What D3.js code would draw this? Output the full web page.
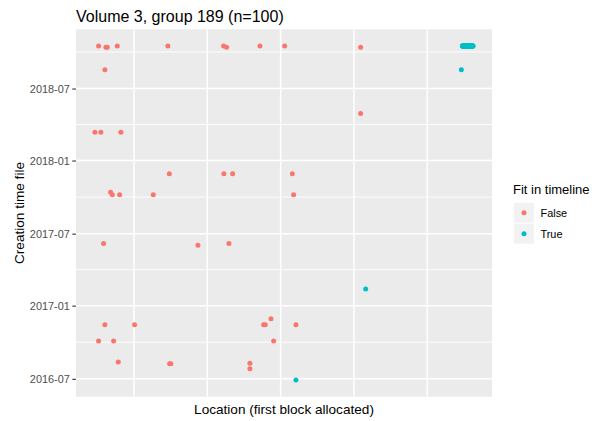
<!DOCTYPE html>
<html>
<head>
<meta charset="utf-8">
<script src="https://cdn.jsdelivr.net/npm/d3@7"></script>
<style>
  html, body { margin: 0; padding: 0; background: #ffffff; }
  svg { display: block; font-family: "Liberation Sans", Arial, sans-serif; }
</style>
</head>
<body>
<svg id="chart" width="597" height="421"></svg>
<script>
// Files whose placement does not fit the timeline (Fit in timeline = False)
const falseLocation = [
  0.517, 0.617, 0.636, 0.772, 1.462, 0.603, 0.467, 0.548, 0.821,
  2.222, 2.263, 2.718, 3.055, 4.091, 4.091,
  1.482, 0.681, 0.704, 0.804, 1.263, 0.585, 1.872,
  2.226, 2.345, 3.160, 3.177, 2.295,
  0.603, 1.008, 0.517, 0.722, 0.786, 1.486, 1.503,
  2.868, 2.768, 2.791, 3.209, 2.905, 2.581, 2.581
];
const falseCreated = [
  "2018-10-16", "2018-10-13", "2018-10-13", "2018-10-16", "2018-10-16", "2018-08-17", "2018-03-13", "2018-03-13", "2018-03-13",
  "2018-10-16", "2018-10-13", "2018-10-16", "2018-10-16", "2018-10-13", "2018-04-29",
  "2017-11-29", "2017-10-13", "2017-10-07", "2017-10-07", "2017-10-07", "2017-06-06", "2017-06-02",
  "2017-11-29", "2017-11-29", "2017-11-29", "2017-10-07", "2017-06-06",
  "2016-11-14", "2016-11-14", "2016-10-04", "2016-10-04", "2016-08-12", "2016-08-08", "2016-08-08",
  "2016-11-29", "2016-11-14", "2016-11-14", "2016-11-14", "2016-10-04", "2016-08-09", "2016-07-26"
];

// Files that fit the timeline (Fit in timeline = True)
const trueLocation = [5.465, 4.160, 3.209];
const trueCreated = ["2018-08-17", "2017-02-12", "2016-06-28"];

// One contiguous batch written on the same day at the end of the volume
const batchLocation = [
  5.478, 5.481, 5.483, 5.486, 5.489, 5.491, 5.494, 5.496, 5.499, 5.502,
  5.504, 5.507, 5.510, 5.512, 5.515, 5.517, 5.520, 5.523, 5.525, 5.528,
  5.531, 5.533, 5.536, 5.538, 5.541, 5.544, 5.546, 5.549, 5.552, 5.554,
  5.557, 5.559, 5.562, 5.565, 5.567, 5.570, 5.573, 5.575, 5.578, 5.580,
  5.583, 5.586, 5.588, 5.591, 5.594, 5.596, 5.599, 5.601, 5.604, 5.607,
  5.609, 5.612, 5.615, 5.617, 5.620, 5.622, 5.625
];
const batchCreated = "2018-10-16";

const xBreaks = [1, 2, 3, 4, 5];
const yBreaks = ["2016-07-01", "2017-01-01", "2017-07-01", "2018-01-01", "2018-07-01"];
const yTickLabels = ["2016-07", "2017-01", "2017-07", "2018-01", "2018-07"];
const fitLevels = ["False", "True"];
const fitColors = ["#F8766D", "#00BFC4"];

const parse = d3.utcParse("%Y-%m-%d");

const points = [];
falseLocation.forEach((x, i) => points.push({ x, t: parse(falseCreated[i]), fit: "False" }));
trueLocation.forEach((x, i) => points.push({ x, t: parse(trueCreated[i]), fit: "True" }));
batchLocation.forEach(x => points.push({ x, t: parse(batchCreated), fit: "True" }));

const svg = d3.select("#chart");
const panel = { left: 76, top: 29.3, right: 492, bottom: 396.7 };

// continuous scales with 5% expansion on each side
function expand(ext) {
  const pad = (ext[1] - ext[0]) * 0.05;
  return [ext[0] - pad, ext[1] + pad];
}
const xExt = expand(d3.extent(points, d => d.x));
const tExt = d3.extent(points, d => +d.t);
const tDom = expand(tExt).map(v => new Date(v));

const x = d3.scaleLinear().domain(xExt).range([panel.left, panel.right]);
const y = d3.scaleUtc().domain(tDom).range([panel.bottom, panel.top]);
const color = d3.scaleOrdinal().domain(fitLevels).range(fitColors);

// panel background
svg.append("rect")
  .attr("x", panel.left).attr("y", panel.top)
  .attr("width", panel.right - panel.left).attr("height", panel.bottom - panel.top)
  .attr("fill", "#EBEBEB");

// minor horizontal grid: midway between major breaks
const majorDates = yBreaks.map(parse);
const extended = [d3.utcMonth.offset(majorDates[0], -6), ...majorDates, d3.utcMonth.offset(majorDates[majorDates.length - 1], 6)];
const minorDates = [];
for (let i = 0; i < extended.length - 1; i++) {
  minorDates.push(new Date((+extended[i] + +extended[i + 1]) / 2));
}
const inDomain = d => d >= tDom[0] && d <= tDom[1];

const grid = svg.append("g");
grid.selectAll("line.minor")
  .data(minorDates.filter(inDomain))
  .join("line")
  .attr("x1", panel.left).attr("x2", panel.right)
  .attr("y1", d => y(d)).attr("y2", d => y(d))
  .attr("stroke", "#ffffff").attr("stroke-width", 0.9);
grid.selectAll("line.majory")
  .data(majorDates)
  .join("line")
  .attr("x1", panel.left).attr("x2", panel.right)
  .attr("y1", d => y(d)).attr("y2", d => y(d))
  .attr("stroke", "#ffffff").attr("stroke-width", 1.5);
grid.selectAll("line.majorx")
  .data(xBreaks)
  .join("line")
  .attr("x1", d => x(d)).attr("x2", d => x(d))
  .attr("y1", panel.top).attr("y2", panel.bottom)
  .attr("stroke", "#ffffff").attr("stroke-width", 1.5);

// y axis with date labels
const yAxis = d3.axisLeft(y)
  .tickValues(majorDates)
  .tickFormat((d, i) => yTickLabels[i])
  .tickSize(3.7)
  .tickPadding(2.5);
const gy = svg.append("g")
  .attr("transform", `translate(${panel.left},0)`)
  .call(yAxis);
gy.select(".domain").remove();
gy.selectAll(".tick line").attr("stroke", "#333333").attr("stroke-width", 1.1);
gy.selectAll(".tick text")
  .attr("fill", "#4D4D4D")
  .style("font-size", "10.9px")
  .style("font-family", "'Liberation Sans', Arial, sans-serif");

// points
svg.append("g")
  .selectAll("circle")
  .data(points)
  .join("circle")
  .attr("cx", d => x(d.x))
  .attr("cy", d => y(d.t))
  .attr("r", 2.5)
  .attr("fill", d => color(d.fit));

// title
svg.append("text")
  .attr("x", panel.left).attr("y", 21.5)
  .attr("fill", "#000")
  .style("font-size", "16px")
  .text("Volume 3, group 189 (n=100)");

// axis titles
svg.append("text")
  .attr("x", (panel.left + panel.right) / 2).attr("y", 414)
  .attr("text-anchor", "middle")
  .attr("fill", "#000")
  .style("font-size", "13.6px")
  .text("Location (first block allocated)");

svg.append("text")
  .attr("transform", `translate(24,${(panel.top + panel.bottom) / 2}) rotate(-90)`)
  .attr("text-anchor", "middle")
  .attr("fill", "#000")
  .style("font-size", "13.6px")
  .text("Creation time file");

// legend
const legend = svg.append("g").attr("transform", "translate(513,0)");
legend.append("text")
  .attr("x", 0).attr("y", 194)
  .attr("fill", "#000")
  .style("font-size", "13px")
  .text("Fit in timeline");
const keys = legend.selectAll("g.key")
  .data(fitLevels)
  .join("g")
  .attr("transform", (d, i) => `translate(1,${202.7 + i * 21})`);
keys.append("rect")
  .attr("width", 20).attr("height", 20)
  .attr("fill", "#F2F2F2");
keys.append("circle")
  .attr("cx", 10).attr("cy", 10).attr("r", 2.5)
  .attr("fill", d => color(d));
keys.append("text")
  .attr("x", 26.5).attr("y", 14)
  .attr("fill", "#000")
  .style("font-size", "10.9px")
  .text(d => d);
</script>
</body>
</html>
